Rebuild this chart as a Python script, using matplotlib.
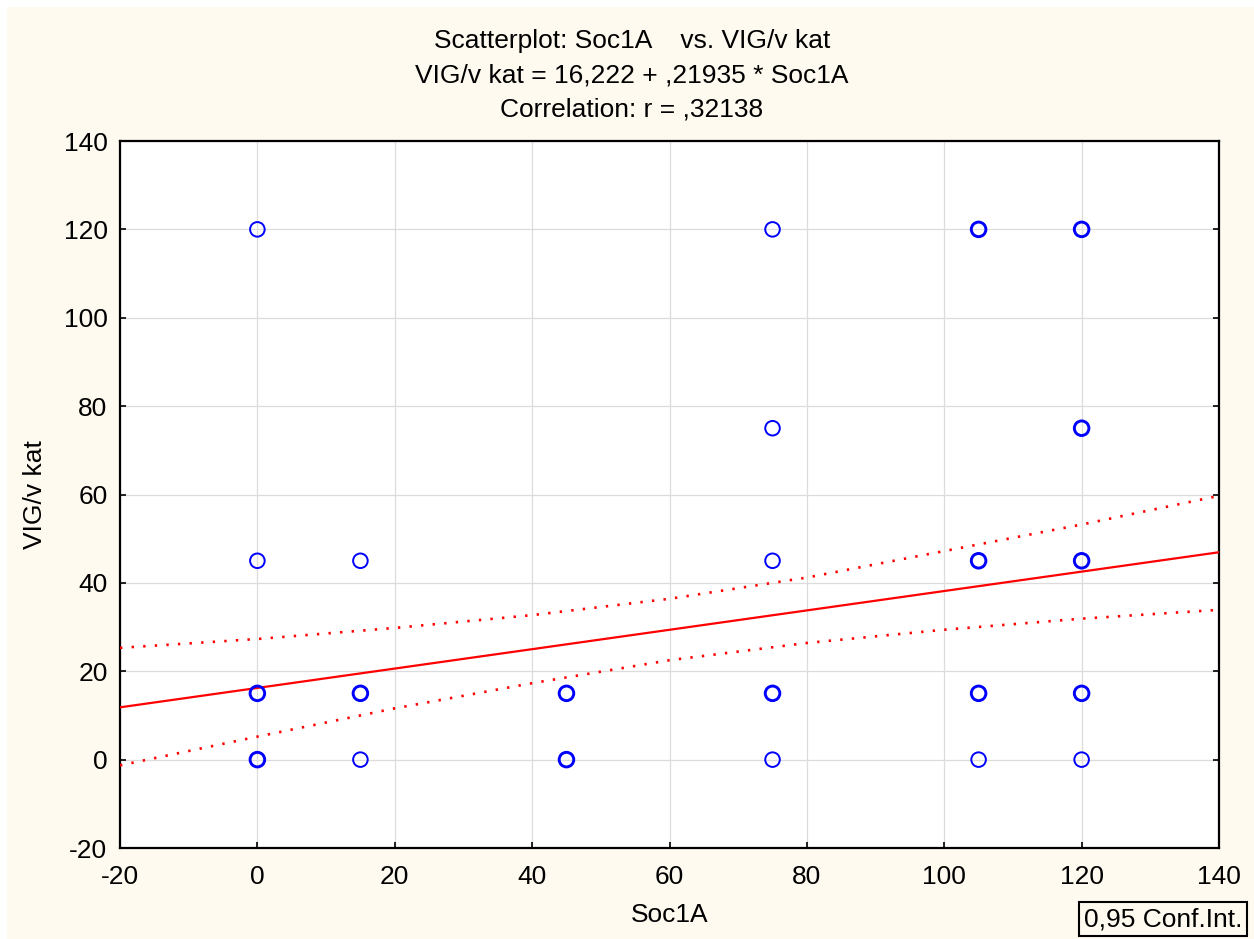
import numpy as np
import matplotlib
matplotlib.use("Agg")
import matplotlib.pyplot as plt
from matplotlib.patches import Rectangle

plt.rcParams["font.family"] = ["Liberation Sans", "DejaVu Sans"]
plt.rcParams["axes.unicode_minus"] = False

# Observations (repeated pairs overlap and are drawn with a heavier ring)
soc1a = [0, 0, 0, 0, 0, 0,
         15, 15, 15, 15,
         45, 45, 45, 45,
         75, 75, 75, 75, 75, 75,
         105, 105, 105, 105, 105, 105, 105,
         120, 120, 120, 120, 120, 120, 120, 120, 120]
vig_kat = [120, 45, 15, 15, 0, 0,
           45, 15, 15, 0,
           15, 15, 0, 0,
           120, 75, 45, 15, 15, 0,
           120, 120, 45, 45, 15, 15, 0,
           120, 120, 75, 75, 45, 45, 15, 15, 0]

# Fitted line from the title
intercept = 16.222
slope = 0.21935

# 0.95 confidence band, read at the grid positions
ci_x = [-20, 0, 20, 40, 60, 80, 100, 120, 140]
ci_upper = [25.3, 27.3, 29.8, 32.7, 36.4, 41.2, 47.2, 53.2, 59.7]
ci_lower = [-1.3, 5.2, 11.6, 17.3, 22.5, 26.4, 29.4, 31.9, 33.9]

x_ticks = [-20, 0, 20, 40, 60, 80, 100, 120, 140]
y_ticks = [-20, 0, 20, 40, 60, 80, 100, 120, 140]

title_lines = ["Scatterplot: Soc1A    vs. VIG/v kat",
               "VIG/v kat = 16,222 + ,21935 * Soc1A",
               "Correlation: r = ,32138"]

CREAM = "#FFFAF0"
FS = 19
W, H = 1254, 939

fig = plt.figure(figsize=(W / 100, H / 100), dpi=100, facecolor="white")
fig.patches.append(Rectangle((7 / W, 0), 1 - 7 / W, 1 - 7 / H,
                             transform=fig.transFigure, facecolor=CREAM,
                             edgecolor="none", zorder=-10))

ax = fig.add_axes([120 / W, 1 - 848 / H, (1219 - 120) / W, (848 - 141) / H])
ax.set_facecolor("white")
ax.set_xlim(-20, 140)
ax.set_ylim(-20, 140)
ax.set_xticks(x_ticks)
ax.set_yticks(y_ticks)
ax.grid(True, color="#DCDCDC", linewidth=0.9)
ax.set_axisbelow(True)
ax.tick_params(direction="in", length=4, width=1.2, labelsize=FS,
               right=True, top=False, colors="black")
ax.tick_params(axis="x", pad=12)
ax.tick_params(axis="y", pad=9)
for sp in ax.spines.values():
    sp.set_linewidth(1.6)
    sp.set_color("black")

# points, heavier ring where several cases coincide
pts, counts = np.unique(np.column_stack([soc1a, vig_kat]), axis=0, return_counts=True)
lws = np.where(counts > 1, 2.1, 1.4)
ax.scatter(pts[:, 0], pts[:, 1], s=110, facecolors="none", edgecolors="#0000FF",
           linewidths=lws, zorder=4, clip_on=False)

# regression line and confidence band
xl = np.array(ax.get_xlim())
ax.plot(xl, intercept + slope * xl, color="#FF0000", lw=1.6, zorder=3)
ax.plot(ci_x, ci_upper, color="#FF0000", lw=1.9, linestyle=(0, (0.9, 3.5)), zorder=3)
ax.plot(ci_x, ci_lower, color="#FF0000", lw=1.9, linestyle=(0, (0.9, 3.5)), zorder=3)

ax.set_xlabel("Soc1A", fontsize=FS, labelpad=10)
ax.set_ylabel("VIG/v kat", fontsize=FS, labelpad=12)

for i, line in enumerate(title_lines):
    fig.text(632 / W, 1 - (41 + i * 34.5) / H, line, ha="center", va="center",
             fontsize=FS)

fig.text(1163 / W, 1 - 919 / H, "0,95 Conf.Int.", ha="center", va="center",
         fontsize=FS,
         bbox=dict(boxstyle="square,pad=0.2", facecolor=CREAM,
                   edgecolor="black", linewidth=1.5))

fig.savefig("out.png", dpi=100, facecolor=fig.get_facecolor())
